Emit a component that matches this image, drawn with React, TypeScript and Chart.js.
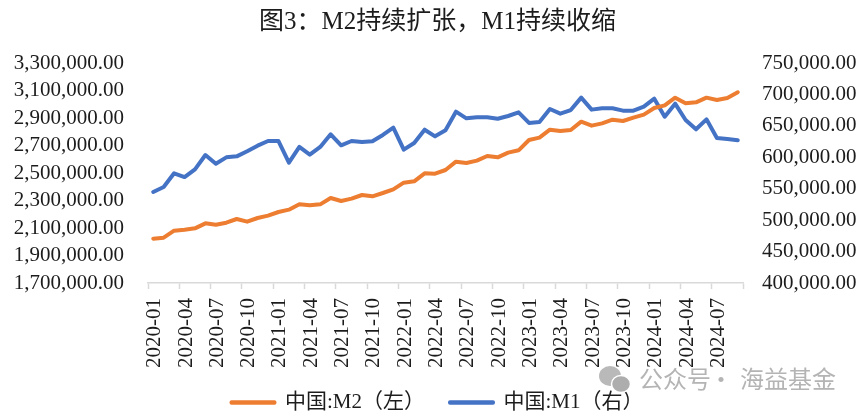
import React, { useEffect, useRef } from "react";
import { Chart, registerables } from "chart.js";

Chart.register(...registerables);

const years = ["2020", "2021", "2022", "2023", "2024"];
const monthNames = ["01", "02", "03", "04", "05", "06", "07", "08", "09", "10", "11", "12"];
const categories: string[] = years
  .flatMap((y) => monthNames.map((m) => `${y}-${m}`))
  .slice(0, 57);

const m2Values = [
  2022.4, 2029.7, 2080.6, 2087.9, 2097.6, 2133.9, 2124.2, 2138.8, 2165.5, 2146.1,
  2172.7, 2189.7, 2216.4, 2233.3, 2272.1, 2264.9, 2272.1, 2318.2, 2296.3, 2313.3,
  2340.0, 2330.3, 2354.5, 2381.2, 2429.7, 2439.4, 2497.6, 2495.2, 2521.8, 2582.4,
  2572.7, 2589.7, 2623.6, 2613.9, 2647.9, 2664.9, 2740.0, 2757.0, 2815.2, 2805.5,
  2812.7, 2873.3, 2844.2, 2861.2, 2887.9, 2878.2, 2902.4, 2924.3, 2972.7, 2992.1,
  3047.9, 3006.7, 3014.0, 3047.9, 3030.9, 3045.5, 3086.7,
].map((v) => v * 1000);

const m1Values = [
  544.8, 552.7, 574.5, 568.6, 580.8, 603.6, 589.8, 599.9, 601.5, 609.5,
  618.5, 625.9, 625.9, 591.5, 616.4, 604.2, 616.4, 636.5, 619.0, 625.9,
  624.3, 625.4, 635.5, 647.1, 612.1, 622.7, 643.9, 633.3, 642.9, 672.6,
  662.0, 663.6, 663.6, 661.4, 665.7, 671.5, 654.6, 656.1, 676.8, 669.4,
  675.2, 694.9, 675.8, 677.9, 677.9, 674.2, 674.2, 680.5, 693.3, 664.6,
  685.3, 659.3, 644.5, 660.4, 630.7, 629.1, 627.0,
].map((v) => v * 1000);

const titleText = "图3：M2持续扩张，M1持续收缩";
const m2Label = "中国:M2（左）";
const m1Label = "中国:M1（右）";
const watermarkParts = ["公众号", "·", "海益基金"];

const SERIF = '"Liberation Serif", "Noto Sans CJK SC", serif';
const ORANGE = "#ed7d31";
const BLUE = "#4472c4";
const AXIS_GREY = "#d9d9d9";
const TEXT = "#1c1c1c";

const fmt = (v: number) =>
  v.toLocaleString("en-US", { minimumFractionDigits: 2, maximumFractionDigits: 2 });

const watermarkPlugin = {
  id: "watermark",
  afterDraw(chart: Chart) {
    const ctx = chart.ctx;
    ctx.save();
    ctx.fillStyle = "#b9b9b9";
    ctx.beginPath();
    ctx.ellipse(610, 376, 11, 10, 0, 0, Math.PI * 2);
    ctx.fill();
    ctx.strokeStyle = "#ffffff";
    ctx.lineWidth = 1.5;
    ctx.fillStyle = "#adadad";
    ctx.beginPath();
    ctx.ellipse(621, 384, 9.5, 8.5, 0, 0, Math.PI * 2);
    ctx.fill();
    ctx.stroke();
    ctx.fillStyle = "#b4b4b4";
    ctx.font = '24px "Noto Sans CJK SC", sans-serif';
    ctx.textBaseline = "middle";
    ctx.textAlign = "left";
    ctx.fillText(watermarkParts[0], 639, 379);
    ctx.fillText(watermarkParts[1], 709, 379);
    ctx.fillText(watermarkParts[2], 740, 379);
    ctx.restore();
  },
};

export default function App() {
  const ref = useRef<HTMLCanvasElement>(null);
  useEffect(() => {
    const chart = new Chart(ref.current!, {
      type: "line",
      data: {
        labels: categories,
        datasets: [
          {
            label: m2Label,
            data: m2Values,
            borderColor: ORANGE,
            backgroundColor: ORANGE,
            borderWidth: 4,
            pointRadius: 0,
            tension: 0,
            yAxisID: "y",
            borderCapStyle: "round",
            borderJoinStyle: "round",
          },
          {
            label: m1Label,
            data: m1Values,
            borderColor: BLUE,
            backgroundColor: BLUE,
            borderWidth: 4,
            pointRadius: 0,
            tension: 0,
            yAxisID: "y1",
            borderCapStyle: "round",
            borderJoinStyle: "round",
          },
        ],
      },
      options: {
        responsive: false,
        animation: false,
        layout: { padding: { left: 10, right: 0, top: 0, bottom: -9 } },
        plugins: {
          title: {
            display: true,
            text: titleText,
            color: TEXT,
            font: { family: SERIF, size: 25, weight: "normal" },
            padding: { top: 7, bottom: 26 },
          },
          legend: {
            position: "bottom",
            labels: {
              boxWidth: 43,
              boxHeight: 0.5,
              color: TEXT,
              font: { family: SERIF, size: 21 },
              padding: 25,
            },
          },
          tooltip: { enabled: false },
        },
        scales: {
          x: {
            offset: true,
            grid: {
              offset: true,
              drawOnChartArea: false,
              drawTicks: true,
              tickLength: 6,
              tickWidth: 1.5,
              tickColor: (c: any) =>
                c.index === undefined || c.index % 3 === 0 ? AXIS_GREY : "rgba(0,0,0,0)",
            },
            border: { color: AXIS_GREY, width: 1.5 },
            ticks: {
              autoSkip: false,
              minRotation: 90,
              maxRotation: 90,
              padding: 9,
              labelOffset: 1.5,
              color: TEXT,
              font: { family: SERIF, size: 21 },
              callback: (_v: any, i: number) => (i % 3 === 0 ? categories[i] : ""),
            },
            afterFit: (s: any) => {
              s.height = 84;
            },
          },
          y: {
            position: "left",
            min: 1700000,
            max: 3300000,
            grid: { display: false },
            border: { display: false },
            ticks: {
              autoSkip: false,
              stepSize: 200000,
              padding: 16,
              color: TEXT,
              font: { family: SERIF, size: 21 },
              callback: (v: any) => fmt(Number(v)),
            },
            afterFit: (s: any) => {
              s.width = 138;
            },
          },
          y1: {
            position: "right",
            min: 400000,
            max: 750000,
            grid: { display: false },
            border: { display: false },
            ticks: {
              autoSkip: false,
              stepSize: 50000,
              padding: 11,
              color: TEXT,
              font: { family: SERIF, size: 21 },
              callback: (v: any) => fmt(Number(v)),
            },
            afterFit: (s: any) => {
              s.width = 122;
            },
          },
        },
      },
      plugins: [watermarkPlugin],
    } as any);
    return () => chart.destroy();
  }, []);
  return (
    <div style={{ position: "absolute", left: 0, top: 0, width: 865, height: 414, background: "#fff" }}>
      <canvas ref={ref} width={865} height={414} style={{ display: "block" }} />
    </div>
  );
}
